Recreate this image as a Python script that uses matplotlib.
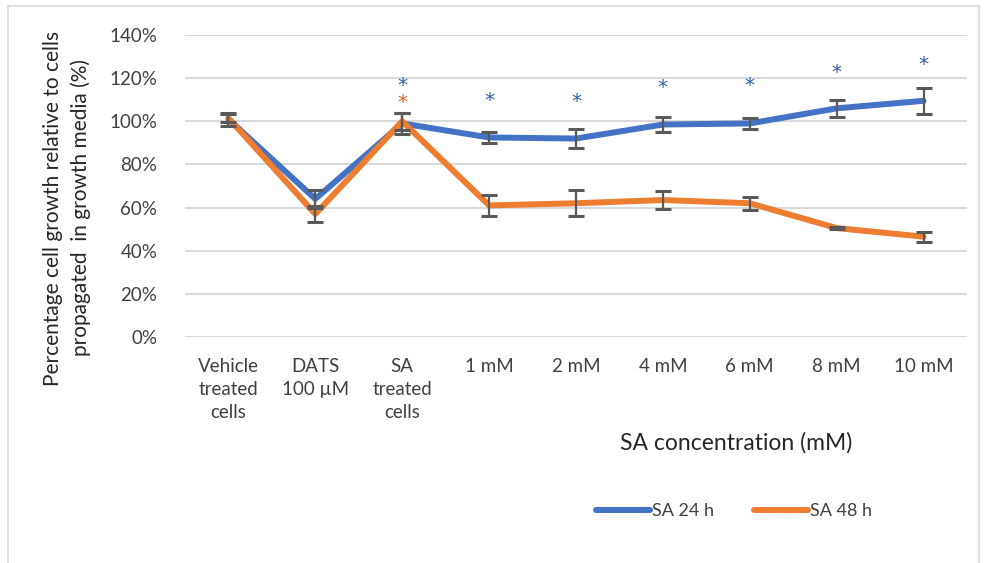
import matplotlib
matplotlib.use("Agg")
import matplotlib.pyplot as plt
from matplotlib.patches import Rectangle
from matplotlib.ticker import PercentFormatter

plt.rcParams['font.family'] = ['Lato', 'DejaVu Sans']

categories = ["Vehicle\ntreated\ncells", "DATS\n100 µM", "SA\ntreated\ncells",
              "1 mM", "2 mM", "4 mM", "6 mM", "8 mM", "10 mM"]
sa24 = [101, 64, 99, 92.5, 92, 98.5, 99, 106, 109.5]
sa24_err = [3, 4, 5, 2.5, 4.3, 3.4, 2.5, 4, 6]
sa48 = [101.5, 57, 100, 61, 62, 63.5, 62, 50.5, 46.5]
sa48_err = [2, 3.5, 4, 5, 6, 4, 3, 0.5, 2.3]
star24 = [None, None, 116.5, 109.5, 109, 115.5, 116.5, 122.5, 126.5]
star48 = [None, None, 108.5, None, None, None, None, None, None]
yticks = [0, 20, 40, 60, 80, 100, 120, 140]

blue = "#4472C4"
orange = "#ED7D31"
errc = "#595959"

fig = plt.figure(figsize=(9.84, 5.63), dpi=100)
fig.patches.append(Rectangle((8/984, -0.01), 971/984, 1 - 6/563 + 0.01,
                             transform=fig.transFigure, fill=False,
                             edgecolor="#d9d9d9", linewidth=1.2))
ax = fig.add_axes([185/984, 1 - 337/563, 782/984, (337 - 35)/563])

x = list(range(len(categories)))
ax.plot(x, sa24, color=blue, lw=4.3, solid_capstyle='round', zorder=3, label="SA 24 h")
ax.plot(x, sa48, color=orange, lw=4.3, solid_capstyle='round', zorder=3, label="SA 48 h")
ax.errorbar(x, sa24, yerr=sa24_err, fmt='none', ecolor=errc, elinewidth=1.6,
            capsize=6, capthick=2.2, zorder=4)
ax.errorbar(x, sa48, yerr=sa48_err, fmt='none', ecolor=errc, elinewidth=1.6,
            capsize=6, capthick=2.2, zorder=4)

for i, v in enumerate(star24):
    if v is not None:
        ax.text(i, v, "*", color="#2F5FA8", fontsize=14.5, ha='center', va='center',
                family=['DejaVu Sans'])
for i, v in enumerate(star48):
    if v is not None:
        ax.text(i, v, "*", color="#D0671F", fontsize=14.5, ha='center', va='center',
                family=['DejaVu Sans'])

ax.set_xlim(-0.5, len(categories) - 0.5)
ax.set_ylim(0, 140)
ax.set_yticks(yticks)
ax.yaxis.set_major_formatter(PercentFormatter(decimals=0))
ax.set_xticks(x)
ax.set_xticklabels(categories, linespacing=1.45)
ax.tick_params(axis='both', length=0, labelsize=13.5, colors="#404040")
ax.tick_params(axis='x', pad=15)
ax.tick_params(axis='y', pad=20)
ax.grid(axis='y', color="#d9d9d9", lw=1.5, zorder=0)
ax.set_axisbelow(True)
for s in ax.spines.values():
    s.set_visible(False)

fig.text(67/984, 1 - 208/563,
         "Percentage cell growth relative to cells\npropagated  in growth media (%)",
         rotation=90, ha='center', va='center', fontsize=15, color="#262626",
         linespacing=1.45)
fig.text(736/984, 1 - 443/563, "SA concentration (mM)", ha='center', va='center',
         fontsize=16.5, color="#262626")

leg = fig.legend(loc='center', bbox_to_anchor=(734/984, 1 - 511/563), ncol=2,
                 frameon=False, fontsize=13, handlelength=3.0, handletextpad=0.1,
                 columnspacing=2.2)
for t in leg.get_texts():
    t.set_color("#404040")

fig.savefig("out.png", dpi=100)
